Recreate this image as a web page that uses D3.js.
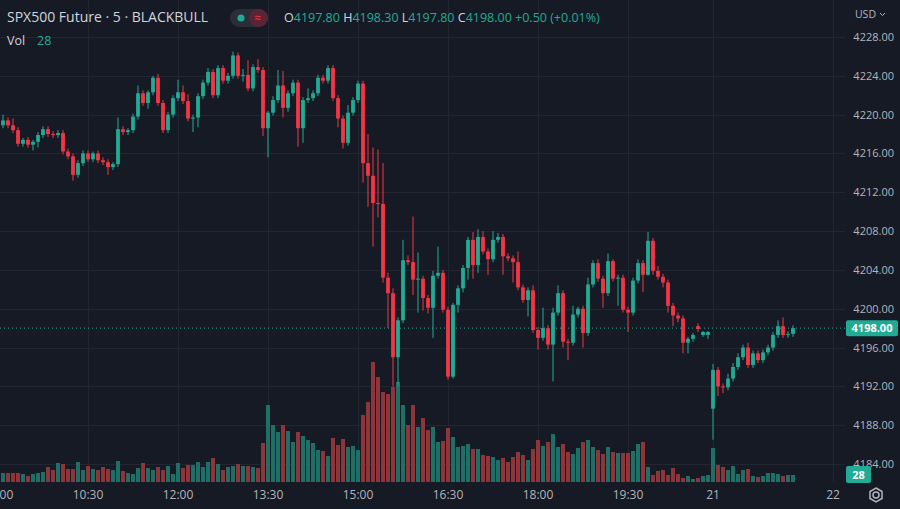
<!DOCTYPE html>
<html><head><meta charset="utf-8">
<script src="https://cdn.jsdelivr.net/npm/d3@7"></script>
<style>
body{margin:0;background:#161a25;overflow:hidden}
text{font-family:"Open Sans",Roboto,sans-serif}
</style></head>
<body><svg id="chart" width="900" height="509"></svg>
<script>
// closing prices, one per 5 min candle starting 09:00
var closes = [
 4218.9,4219.4,4218.9,4218.4,4217.0,4217.4,4216.9,4217.2,4217.9,4218.5,
 4218.0,4217.9,4218.1,4216.2,4215.7,4213.8,4215.0,4216.0,4215.4,4216.0,
 4215.3,4215.1,4214.6,4214.9,4218.5,4218.2,4218.4,4219.8,4222.2,4221.2,
 4222.3,4223.8,4221.2,4218.4,4220.0,4221.7,4222.3,4221.4,4219.6,4219.7,
 4221.9,4223.3,4224.4,4222.0,4224.8,4223.5,4224.0,4226.1,4224.0,4224.1,
 4222.7,4224.9,4224.6,4218.6,4220.2,4221.5,4223.0,4220.7,4222.2,4223.3,
 4218.6,4221.5,4221.7,4222.2,4223.8,4223.5,4224.8,4221.7,4219.6,4217.1,
 4220.2,4221.5,4223.2,4215.0,4213.7,4210.9,4210.8,4203.2,4201.6,4195.0,
 4198.8,4205.0,4204.8,4203.0,4203.1,4201.1,4200.1,4203.4,4203.7,4199.9,
 4193.0,4200.4,4202.1,4204.2,4207.1,4204.5,4207.4,4205.9,4205.1,4207.1,
 4207.4,4205.4,4205.2,4204.8,4202.2,4200.9,4201.9,4197.8,4197.0,4198.0,
 4196.3,4199.6,4201.6,4196.6,4196.5,4199.4,4200.0,4197.5,4202.5,4204.7,
 4203.1,4201.6,4204.9,4203.1,4203.2,4199.9,4199.6,4202.9,4204.7,4203.5,
 4207.0,4203.9,4203.3,4202.7,4200.3,4199.3,4199.0,4196.5,4196.9,4197.3,
 4197.9,4197.6,4197.6,4193.7,4192.0,4191.9,4192.8,4194.0,4195.0,4196.0,
 4194.2,4195.4,4194.7,4195.5,4196.0,4197.3,4198.2,4197.3,4197.4,4198.0
];
// opens that differ from the previous close
var openGaps = {0: 4219.5, 140: 4198.2, 141: 4197.3, 142: 4197.3, 143: 4189.7};
// wick lengths above / below the body
var wickUp = [
 .3,.6,.3,.7,.3,.2,.3,.2,.3,.3, .3,.3,.3,.3,.3,.3,.3,.3,.3,.2,
 .3,.3,.3,.2,1.2,.3,.2,.3,.8,.3, .2,.2,.4,.3,.3,.3,1.3,.7,.7,.3,
 .3,.3,.4,.3,.3,.3,.3,.4,.3,.6, 1.5,.3,.8,.3,.2,.4,1.6,1.5,.3,.3,
 .3,.3,1.0,.3,.3,.3,.3,.3,.3,.3, .8,.3,.3,.3,3.0,2.9,5.5,4.2,.5,.5,
 .3,2.1,.5,4.7,2.7,.3,.3,.5,2.7,.3, .3,.2,.3,.3,.3,.8,.8,.6,.3,.9,
 .4,.3,.3,.3,1.1,.3,.3,.5,.3,2.1, .3,.5,.8,.3,.3,.9,.2,.3,.7,.3,
 .4,.3,.8,.2,.3,.3,.3,.3,.4,.3, .9,.3,.5,.3,.3,.3,.3,.3,.2,.2,
 .3,.1,.1,.6,.3,.3,.5,.4,.4,.3, .5,.3,.3,.3,.3,.3,.6,.9,.3,.3
];
var wickDn = [
 .3,.3,.3,.3,.3,.3,.3,.6,.6,.3, .3,.3,.3,.3,.3,.6,.3,.3,.3,.3,
 .3,.3,.8,.3,.3,.3,.3,.3,.3,.3, .6,.3,.3,.3,.3,.3,.3,.3,.3,1.4,
 1.0,.3,.3,.3,.3,.3,.3,.3,.3,.6, .3,.3,.3,.8,3.0,.3,.3,1.0,.4,.3,
 1.9,1.5,.3,.3,.3,.3,.3,.3,.9,.6, .3,.3,.3,2.0,3.2,4.5,1.4,.5,3.6,3.0,
 3.0,.3,.3,1.6,3.4,1.3,.6,3.1,.3,.3, .3,.2,.8,.4,1.2,1.4,.8,.3,1.6,.3,
 .3,1.9,.3,2.1,.3,.3,1.7,.3,1.2,.3, .5,3.8,.3,.6,1.8,.3,.3,1.5,.3,.3,
 .3,1.5,.3,.3,2.8,.3,2.0,.3,.3,1.8, .1,.4,.3,.5,.7,1.1,.4,1.1,1.1,.3,
 .3,.2,.4,3.2,1.0,.6,.3,.3,.3,.3, .3,.3,.3,.3,.3,.3,.3,.3,.3,.3
];
var volumes = [
 9,9,9,9,9,8,6,8,9,10, 15,12,19,18,13,13,20,12,16,13,
 12,15,13,12,21,11,9,8,14,19, 14,12,15,12,16,8,19,14,17,17,
 20,15,20,24,18,12,15,16,18,16, 16,15,14,39,77,57,50,57,51,40,
 50,46,42,39,32,31,26,44,37,43, 35,36,32,67,80,120,105,90,88,95,
 100,77,57,77,55,64,52,55,40,41, 54,45,35,36,38,33,33,27,26,25,
 22,24,20,25,30,27,22,33,42,36, 40,48,35,38,30,28,34,40,42,35,
 32,28,35,30,29,29,29,31,38,40, 15,7,11,12,7,14,8,4,6,3,
 4,6,7,34,17,15,12,16,8,12, 13,6,5,6,9,9,8,6,7,7
];
var priceTicks = [4228,4224,4220,4216,4212,4208,4204,4200,4196,4192,4188,4184];
var timeTicks = [[0,"09:00"],[18,"10:30"],[36,"12:00"],[54,"13:30"],[72,"15:00"],[90,"16:30"],[108,"18:00"],[126,"19:30"],[143,"21"],[167,"22"]];
var lastPrice = 4198.00, lastVol = 28;

var candles = closes.map(function(c, i) {
  var o = openGaps[i] != null ? openGaps[i] : closes[i - 1];
  return {i: i, o: o, c: c, h: Math.max(o, c) + wickUp[i], l: Math.min(o, c) - wickDn[i], v: volumes[i]};
});

var svg = d3.select("#chart");
var plotW = 845;
var x = d3.scaleLinear().domain([0, 1]).range([-2, 3]);
var y = d3.scaleLinear().domain([4184, 4228]).range([464, 37]);
var yv = d3.scaleLinear().domain([0, 130]).range([482, 352]);
var up = "#22ab94", dn = "#f23645";

var grid = svg.append("g").attr("stroke", "#222631").attr("stroke-width", 1);
grid.selectAll(".h").data(priceTicks).enter().append("line")
  .attr("x1", 0).attr("x2", plotW).attr("y1", function(d) { return Math.round(y(d)) + .5; }).attr("y2", function(d) { return Math.round(y(d)) + .5; });
grid.selectAll(".v").data(timeTicks).enter().append("line")
  .attr("y1", 0).attr("y2", 482).attr("x1", function(d) { return Math.round(x(d[0])) + .5; }).attr("x2", function(d) { return Math.round(x(d[0])) + .5; });

// volume
svg.append("g").selectAll("rect").data(candles).enter().append("rect")
  .attr("x", function(d) { return x(d.i) - 2; }).attr("width", 4)
  .attr("y", function(d) { return yv(d.v); }).attr("height", function(d) { return 482 - yv(d.v); })
  .attr("fill", function(d) { return d.c >= d.o ? "#1f6f66" : "#8e3539"; });

// last price line
svg.append("line").attr("x1", 0).attr("x2", plotW).attr("y1", y(lastPrice)).attr("y2", y(lastPrice))
  .attr("stroke", up).attr("stroke-dasharray", "1,3").attr("stroke-width", 1);

// candles
var cg = svg.append("g").selectAll("g").data(candles).enter().append("g");
cg.append("line")
  .attr("x1", function(d) { return x(d.i); }).attr("x2", function(d) { return x(d.i); })
  .attr("y1", function(d) { return y(d.h); }).attr("y2", function(d) { return y(d.l); })
  .attr("stroke", function(d) { return d.c >= d.o ? up : dn; }).attr("stroke-width", 1);
cg.append("rect")
  .attr("x", function(d) { return x(d.i) - 1.9; }).attr("width", 3.8)
  .attr("y", function(d) { return y(Math.max(d.o, d.c)); })
  .attr("height", function(d) { return Math.max(1, Math.abs(y(d.o) - y(d.c))); })
  .attr("fill", function(d) { return d.c >= d.o ? up : dn; });

// price axis
svg.append("rect").attr("x", plotW).attr("y", 0).attr("width", 55).attr("height", 509).attr("fill", "#161a25");
svg.append("g").selectAll("text").data(priceTicks).enter().append("text")
  .attr("x", 894).attr("y", function(d) { return y(d) + 4; }).attr("text-anchor", "end")
  .attr("fill", "#b2b5be").attr("font-size", 11).text(function(d) { return d.toFixed(2); });
svg.append("text").attr("x", 876).attr("y", 18).attr("text-anchor", "end").attr("fill", "#b2b5be").attr("font-size", 10.5).text("USD");
svg.append("path").attr("d", "M880 13 l2.5 2.5 l2.5 -2.5").attr("fill", "none").attr("stroke", "#b2b5be");
svg.append("rect").attr("x", 846).attr("y", y(lastPrice) - 8).attr("width", 52).attr("height", 16).attr("rx", 2).attr("fill", up);
svg.append("text").attr("x", 872).attr("y", y(lastPrice) + 4).attr("text-anchor", "middle").attr("fill", "#fff").attr("font-size", 11).attr("font-weight", "bold").text(lastPrice.toFixed(2));
svg.append("rect").attr("x", 846).attr("y", 466).attr("width", 25).attr("height", 17).attr("rx", 2).attr("fill", up);
svg.append("text").attr("x", 858.5).attr("y", 478.5).attr("text-anchor", "middle").attr("fill", "#fff").attr("font-size", 11).attr("font-weight", "bold").text(lastVol);

// time axis
svg.append("g").selectAll("text").data(timeTicks).enter().append("text")
  .attr("x", function(d) { return x(d[0]); }).attr("y", 499).attr("text-anchor", "middle")
  .attr("fill", "#b2b5be").attr("font-size", 12).text(function(d) { return d[1]; });
svg.append("circle").attr("cx", 876).attr("cy", 495).attr("r", 3).attr("fill", "none").attr("stroke", "#b2b5be").attr("stroke-width", 1.5);
svg.append("path").attr("d", "M876 488 l6 3.5 v7 l-6 3.5 l-6 -3.5 v-7 z").attr("fill", "none").attr("stroke", "#b2b5be").attr("stroke-width", 1.5);

// legend
svg.append("text").attr("x", 7).attr("y", 22).attr("fill", "#d1d4dc").attr("font-size", 14).text("SPX500 Future · 5 · BLACKBULL");
svg.append("rect").attr("x", 230).attr("y", 9).attr("width", 38).attr("height", 18).attr("rx", 9).attr("fill", "#2a2e39");
svg.append("rect").attr("x", 249).attr("y", 9).attr("width", 19).attr("height", 18).attr("rx", 9).attr("fill", "#5a2434");
svg.append("circle").attr("cx", 241).attr("cy", 18).attr("r", 3.5).attr("fill", up);
svg.append("text").attr("x", 258).attr("y", 22).attr("text-anchor", "middle").attr("fill", dn).attr("font-size", 12).text("≈");
var ohlc = [["O", "4197.80"], ["H", "4198.30"], ["L", "4197.80"], ["C", "4198.00"]];
var lg = svg.append("text").attr("x", 284).attr("y", 22).attr("font-size", 12.5);
ohlc.forEach(function(p) {
  lg.append("tspan").attr("fill", "#d1d4dc").text(p[0]);
  lg.append("tspan").attr("fill", up).text(p[1] + " ");
});
lg.append("tspan").attr("fill", up).text("+0.50 (+0.01%)");
svg.append("text").attr("x", 7).attr("y", 45).attr("fill", "#d1d4dc").attr("font-size", 12.5).text("Vol");
svg.append("text").attr("x", 37).attr("y", 45).attr("fill", up).attr("font-size", 12.5).text(lastVol);
</script></body></html>
